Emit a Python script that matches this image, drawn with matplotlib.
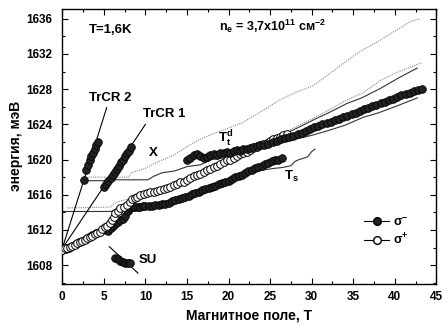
import matplotlib
matplotlib.use("Agg")
import matplotlib.pyplot as plt
from matplotlib.ticker import MultipleLocator

plt.rcParams["font.family"] = ["Liberation Sans", "DejaVu Sans"]
plt.rcParams["font.weight"] = "bold"
plt.rcParams["mathtext.fontset"] = "custom"
plt.rcParams["mathtext.rm"] = "Liberation Sans:bold"
plt.rcParams["mathtext.it"] = "Liberation Sans:bold"
plt.rcParams["mathtext.bf"] = "Liberation Sans:bold"

# --- данные ---
# sigma- : основная нижняя ветвь
sm_low_x = [0.0, 0.4, 0.8, 1.2, 1.6, 2.0, 2.4, 2.8, 3.2, 3.6, 4.0, 4.4, 4.8, 5.2, 5.5,
            5.8, 6.1, 6.4, 6.7, 7.0, 7.3, 7.6, 7.9, 8.2, 8.5, 8.8, 9.1, 9.4, 9.7, 10.0,
            10.4, 10.8, 11.2, 11.6, 12.0, 12.4, 12.8, 13.2, 13.6, 14.0, 14.4, 14.8, 15.2,
            15.6, 16.0, 16.4, 16.8, 17.2, 17.6, 18.0, 18.4, 18.8, 19.2, 19.6, 20.0, 20.4,
            20.8, 21.2, 21.6, 22.0, 22.4, 22.8, 23.2, 23.6, 24.0, 24.4, 24.8, 25.2, 25.6,
            26.0, 26.4]
sm_low_y = [1609.7, 1609.8, 1610.0, 1610.2, 1610.4, 1610.6, 1610.8, 1611.0, 1611.2, 1611.4,
            1611.6, 1611.8, 1612.0, 1612.0, 1611.9, 1612.2, 1612.5, 1612.7, 1612.9, 1613.1,
            1613.3, 1613.6, 1614.2, 1614.5, 1614.6, 1614.6, 1614.6, 1614.6, 1614.7, 1614.7,
            1614.7, 1614.7, 1614.8, 1614.8, 1614.9, 1615.0, 1615.1, 1615.3, 1615.4, 1615.5,
            1615.6, 1615.8, 1615.9, 1616.1, 1616.2, 1616.3, 1616.5, 1616.6, 1616.8, 1616.9,
            1617.0, 1617.2, 1617.3, 1617.5, 1617.6, 1617.8, 1618.0, 1618.1, 1618.3, 1618.5,
            1618.7, 1618.8, 1619.0, 1619.2, 1619.3, 1619.5, 1619.6, 1619.8, 1619.9, 1620.0,
            1620.2]

# sigma- : верхняя ветвь (T_t^d)
sm_up_x = [15.0, 15.4, 15.8, 16.2, 16.6, 17.0, 17.4, 17.8, 18.2, 18.6, 19.0, 19.4, 19.8,
           20.2, 20.6, 21.0, 21.4, 21.8, 22.2, 22.6, 23.0, 23.4, 23.8, 24.3, 24.8, 25.3,
           25.8, 26.3, 26.8, 27.3, 27.8, 28.3, 28.8, 29.3, 29.8, 30.3, 30.8, 31.3, 31.8,
           32.3, 32.8, 33.3, 33.8, 34.3, 34.8, 35.3, 35.8, 36.3, 36.8, 37.3, 37.8, 38.3,
           38.8, 39.3, 39.8, 40.3, 40.8, 41.3, 41.8, 42.3, 42.8, 43.3]
sm_up_y = [1620.0, 1620.2, 1620.5, 1620.6, 1620.4, 1620.2, 1620.3, 1620.5, 1620.6, 1620.5,
           1620.7, 1620.8, 1620.9, 1620.8, 1621.0, 1621.1, 1621.0, 1621.2, 1621.2, 1621.3,
           1621.4, 1621.5, 1621.6, 1621.7, 1621.8, 1622.0, 1622.1, 1622.3, 1622.4, 1622.6,
           1622.7, 1622.9, 1623.0, 1623.2, 1623.5, 1623.7, 1623.8, 1624.0, 1624.1, 1624.3,
           1624.5, 1624.6, 1624.8, 1625.0, 1625.2, 1625.3, 1625.5, 1625.7, 1625.9, 1626.1,
           1626.2, 1626.4, 1626.6, 1626.8, 1626.9, 1627.1, 1627.3, 1627.4, 1627.6, 1627.8,
           1627.9, 1628.0]

# TrCR 2, TrCR 1, SU
trcr2_x = [2.6, 2.9, 3.1, 3.3, 3.5, 3.7, 3.9, 4.1, 4.3]
trcr2_y = [1617.7, 1618.8, 1619.4, 1619.9, 1620.4, 1620.8, 1621.2, 1621.6, 1622.0]
trcr1_x = [5.05, 5.3, 5.55, 5.8, 6.05, 6.3, 6.55, 6.8, 7.05, 7.3, 7.55, 7.8, 8.05, 8.3]
trcr1_y = [1616.9, 1617.2, 1617.6, 1617.9, 1618.3, 1618.6, 1618.9, 1619.3, 1619.7, 1620.0,
           1620.4, 1620.7, 1621.0, 1621.4]
su_x = [6.4, 6.7, 7.0, 7.3, 7.6, 7.9, 8.2]
su_y = [1608.8, 1608.65, 1608.5, 1608.4, 1608.3, 1608.25, 1608.2]

# sigma+
sp_x = [0.0, 0.3, 0.6, 0.9, 1.2, 1.5, 1.8, 2.1, 2.4, 2.7, 3.0, 3.3, 3.6, 3.9, 4.2, 4.5,
        4.8, 5.1, 5.4, 5.7, 6.0, 6.2, 6.4, 6.7, 7.0, 7.4, 7.8, 8.1, 8.4, 8.7, 9.0, 9.4,
        9.8, 10.2, 10.6, 11.0, 11.4, 11.8, 12.2, 12.6, 13.0, 13.4, 13.8, 14.2, 14.6, 15.0,
        15.4, 15.8, 16.2, 16.6, 17.0, 17.4, 17.8, 18.2, 18.6, 19.0, 19.4, 19.8, 20.2, 20.6,
        21.0, 21.4, 21.8, 22.2, 22.6, 23.0, 23.4, 23.8, 24.2, 24.6, 25.0, 25.4, 25.8, 26.2,
        26.6, 27.0]
sp_y = [1609.7, 1609.9, 1610.0, 1610.1, 1610.2, 1610.3, 1610.5, 1610.6, 1610.8, 1610.9,
        1611.1, 1611.2, 1611.3, 1611.5, 1611.7, 1611.8, 1612.1, 1612.3, 1612.5, 1612.8,
        1613.1, 1613.5, 1613.9, 1614.2, 1614.5, 1614.6, 1614.8, 1615.2, 1615.5, 1615.6,
        1615.8, 1616.0, 1616.1, 1616.2, 1616.3, 1616.3, 1616.4, 1616.5, 1616.6, 1616.8,
        1616.9, 1617.1, 1617.2, 1617.4, 1617.5, 1617.7, 1617.9, 1618.1, 1618.2, 1618.4,
        1618.6, 1618.8, 1618.9, 1619.1, 1619.3, 1619.5, 1619.7, 1619.9, 1620.0, 1620.2,
        1620.4, 1620.6, 1620.7, 1620.9, 1621.1, 1621.3, 1621.4, 1621.6, 1621.8, 1621.9,
        1622.1, 1622.3, 1622.4, 1622.6, 1622.8, 1622.9]

# расчётные кривые
dot_a_x = [2.6, 8.0, 8.3, 10.0, 11.4, 13.4, 15.4, 17.0, 19.2, 21.7, 24.0, 26.2, 28.0,
           30.2, 32.5, 35.5, 38.3, 40.0, 41.9, 43.0]
dot_a_y = [1618.0, 1618.0, 1618.5, 1619.0, 1619.7, 1620.5, 1621.7, 1622.5, 1623.3, 1624.2,
           1625.5, 1626.8, 1627.6, 1628.4, 1630.0, 1632.1, 1633.6, 1634.6, 1635.7, 1636.0]
dot_b_x = [0.6, 5.8, 6.4, 7.0, 8.4, 10.2, 12.2, 15.0, 18.2, 21.0, 24.2, 26.2, 27.4, 30.2,
           32.0, 34.3, 36.2, 38.3, 40.5, 43.2]
dot_b_y = [1614.5, 1614.6, 1615.1, 1615.3, 1615.6, 1616.2, 1616.6, 1617.7, 1619.1, 1620.4,
           1621.8, 1622.6, 1623.4, 1624.7, 1625.6, 1626.8, 1627.6, 1629.0, 1630.0, 1631.0]
sol_c_x = [2.6, 6.0, 6.4, 10.3, 11.0, 12.0, 13.5, 15.0, 16.6, 18.0, 19.5, 21.1, 22.6,
           23.8, 25.0, 26.2, 27.4, 28.3, 30.2, 32.0, 34.3, 36.0, 38.3, 40.5, 42.7]
sol_c_y = [1617.6, 1617.6, 1617.7, 1617.7, 1618.1, 1618.5, 1618.7, 1619.2, 1619.4, 1620.0,
           1620.2, 1620.8, 1621.4, 1621.8, 1622.2, 1622.8, 1623.2, 1623.6, 1624.5, 1625.3,
           1626.4, 1627.0, 1628.1, 1629.3, 1630.4]
sol_d_x = [0.0, 5.8, 6.5, 7.0, 8.0, 9.0, 10.0, 12.0, 14.0, 16.0, 18.0, 20.0, 22.0, 24.0,
           26.0, 28.0, 30.2, 32.0, 34.0, 36.2, 38.0, 40.0, 42.7]
sol_d_y = [1614.1, 1614.1, 1614.3, 1614.5, 1615.0, 1615.6, 1616.0, 1616.4, 1617.2, 1618.0,
           1618.9, 1619.8, 1620.6, 1621.3, 1622.0, 1622.3, 1622.8, 1623.3, 1623.9, 1624.8,
           1625.3, 1626.0, 1627.0]
ts_x = [8.0, 10.0, 12.0, 14.0, 16.0, 18.0, 20.0, 22.0, 24.0, 25.5, 26.5, 27.5, 28.0,
        28.5, 29.5, 30.0, 30.4]
ts_y = [1614.3, 1614.5, 1614.7, 1615.3, 1616.0, 1616.7, 1617.4, 1618.2, 1618.8, 1619.0,
        1619.1, 1619.3, 1619.8, 1620.0, 1620.3, 1620.9, 1621.2]

# лучи из нуля и линия SU
ray2_x, ray2_y = [0.0, 5.34], [1609.9, 1625.9]
ray1_x, ray1_y = [0.0, 10.0], [1609.9, 1624.0]
su_line_x, su_line_y = [5.66, 9.1], [1610.1, 1607.1]

fig = plt.figure(figsize=(4.45, 3.26), dpi=100)
ax = fig.add_axes([0.140, 0.130, 0.8405, 0.842])

lw = 0.8
ax.plot(dot_a_x, dot_a_y, ls=(0, (1, 1)), color="#888888", lw=lw, zorder=1)
ax.plot(dot_b_x, dot_b_y, ls=(0, (1, 1)), color="#888888", lw=lw, zorder=1)
ax.plot(sol_c_x, sol_c_y, color="#333333", lw=lw, zorder=1)
ax.plot(sol_d_x, sol_d_y, color="#333333", lw=lw, zorder=1)
ax.plot(ts_x, ts_y, color="#333333", lw=lw, zorder=1)
ax.plot(ray2_x, ray2_y, color="black", lw=lw, zorder=1)
ax.plot(ray1_x, ray1_y, color="black", lw=lw, zorder=1)
ax.plot(su_line_x, su_line_y, color="black", lw=lw, zorder=1)

ms = 5.5
filled = dict(ls="none", marker="o", ms=ms, mfc="#222222", mec="black", mew=0.6)
opened = dict(ls="none", marker="o", ms=ms, mfc="white", mec="black", mew=0.7)

ax.plot(sm_low_x, sm_low_y, zorder=2, **filled)
ax.plot(sp_x, sp_y, zorder=3, **opened)
ax.plot(sm_up_x, sm_up_y, zorder=4, **filled)
ax.plot(trcr2_x, trcr2_y, zorder=4, **filled)
ax.plot(trcr1_x, trcr1_y, zorder=4, **filled)
ax.plot(su_x, su_y, zorder=4, **filled)

# легенда
h1, = ax.plot([], [], color="black", lw=lw, marker="o", ms=ms, mfc="#222222", mec="black")
h2, = ax.plot([], [], color="black", lw=lw, marker="o", ms=ms, mfc="white", mec="black")
ax.legend([h1, h2], ["σ$^{-}$", "σ$^{+}$"], loc="center left",
          bbox_to_anchor=(0.79, 0.19), frameon=False, fontsize=9,
          handlelength=2.0, handletextpad=0.3, labelspacing=0.25, borderpad=0)

fs = 9.5
ax.text(3.2, 1634.7, "T=1,6K", fontsize=fs, ha="left", va="center")
ax.text(18.9, 1635.1, "n$_e$ = 3,7x10$^{11}$ см$^{-2}$", fontsize=9, ha="left", va="center")
ax.text(5.8, 1627.0, "TrCR 2", fontsize=fs, ha="center", va="center")
ax.text(12.3, 1625.2, "TrCR 1", fontsize=fs, ha="center", va="center")
ax.text(10.9, 1620.8, "X", fontsize=fs, ha="center", va="center")
ax.text(10.3, 1608.6, "SU", fontsize=fs, ha="center", va="center")
ax.text(18.7, 1622.3, "T$_t^d$", fontsize=fs, ha="left", va="center")
ax.text(26.7, 1618.1, "T$_s$", fontsize=fs, ha="left", va="center")

ax.set_xlim(0, 45)
ax.set_ylim(1605.9, 1637.1)
ax.xaxis.set_major_locator(MultipleLocator(5))
ax.xaxis.set_minor_locator(MultipleLocator(2.5))
ax.yaxis.set_major_locator(MultipleLocator(4))
ax.yaxis.set_minor_locator(MultipleLocator(2))
ax.tick_params(which="both", direction="in", top=True, right=True, labelsize=8.5, width=0.8)
ax.tick_params(which="major", length=4)
ax.tick_params(which="minor", length=2.2)
ax.tick_params(axis="x", pad=5.5)
ax.tick_params(axis="y", pad=7.5)
for sp in ax.spines.values():
    sp.set_linewidth(1.0)

ax.set_xlabel("Магнитное поле, T", fontsize=10, fontweight="bold", labelpad=4)
ax.set_ylabel("энергия, мэВ", fontsize=10, fontweight="bold", labelpad=2)

fig.savefig("out.png", dpi=100)
